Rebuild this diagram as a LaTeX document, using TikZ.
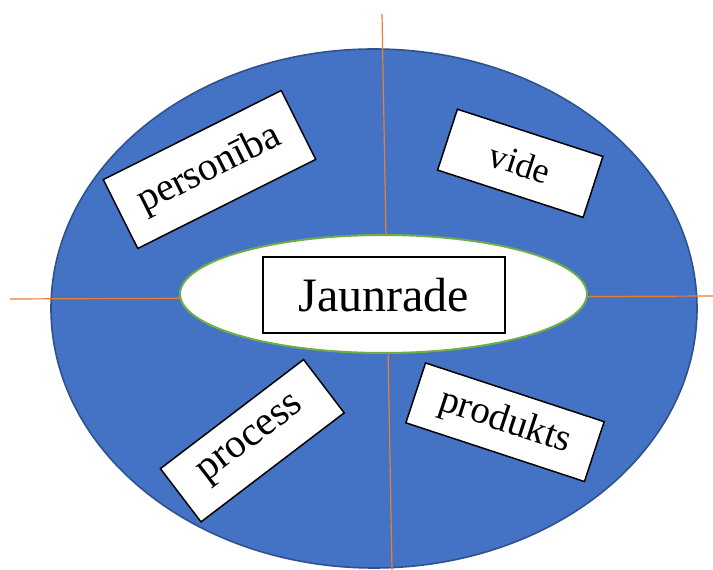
\documentclass[tikz,border=0pt]{standalone}
\usepackage{fontspec}
\setmainfont{Liberation Serif}
\usetikzlibrary{shapes.geometric}
\definecolor{fillblue}{HTML}{4472C4}
\definecolor{edgeblue}{HTML}{2F528F}
\definecolor{linkorange}{HTML}{ED7D31}
\definecolor{ringgreen}{HTML}{70AD47}
\begin{document}
\begin{tikzpicture}[x=1pt,y=1pt,
  outerell/.style={ellipse,draw=edgeblue,fill=fillblue,line width=1.6pt,inner sep=0pt},
  innerell/.style={ellipse,draw=ringgreen,fill=white,line width=2pt,inner sep=0pt},
  axisline/.style={draw=linkorange,line width=1.2pt},
  labelbox/.style={draw=black,fill=white,line width=1.5pt,inner sep=0pt,align=center}
]
\useasboundingbox (0,0) rectangle (713,570);
\node[outerell,minimum width=646pt,minimum height=519pt] (outer) at (374,261.5) {};
\coordinate (vtop) at (382,556);
\coordinate (vbot) at (392,0);
\coordinate (hleft) at (10,271);
\coordinate (hright) at (713,274);
\draw[axisline] (vtop) -- (vbot);
\draw[axisline] (hleft) -- (hright);
\node[innerell,minimum width=407pt,minimum height=118pt] (inner) at (383.5,276) {};
\node[labelbox,minimum width=242pt,minimum height=76pt,font=\fontsize{48}{56}\selectfont] (center) at (384,275) {Jaunrade};
\node[labelbox,minimum width=199pt,minimum height=77pt,rotate=26.6,font=\fontsize{40}{48}\selectfont] (pers) at (209.5,400.5) {personība};
\node[labelbox,minimum width=153pt,minimum height=64pt,rotate=-18,font=\fontsize{36}{44}\selectfont] (vide) at (520.25,406.7) {vide};
\node[labelbox,minimum width=180pt,minimum height=67pt,rotate=37.3,font=\fontsize{41}{48}\selectfont] (proc) at (252.3,129.25) {process};
\node[labelbox,minimum width=188pt,minimum height=63pt,rotate=-18.2,font=\fontsize{39}{46}\selectfont] (prod) at (505,147.75) {produkts};
\end{tikzpicture}
\end{document}
